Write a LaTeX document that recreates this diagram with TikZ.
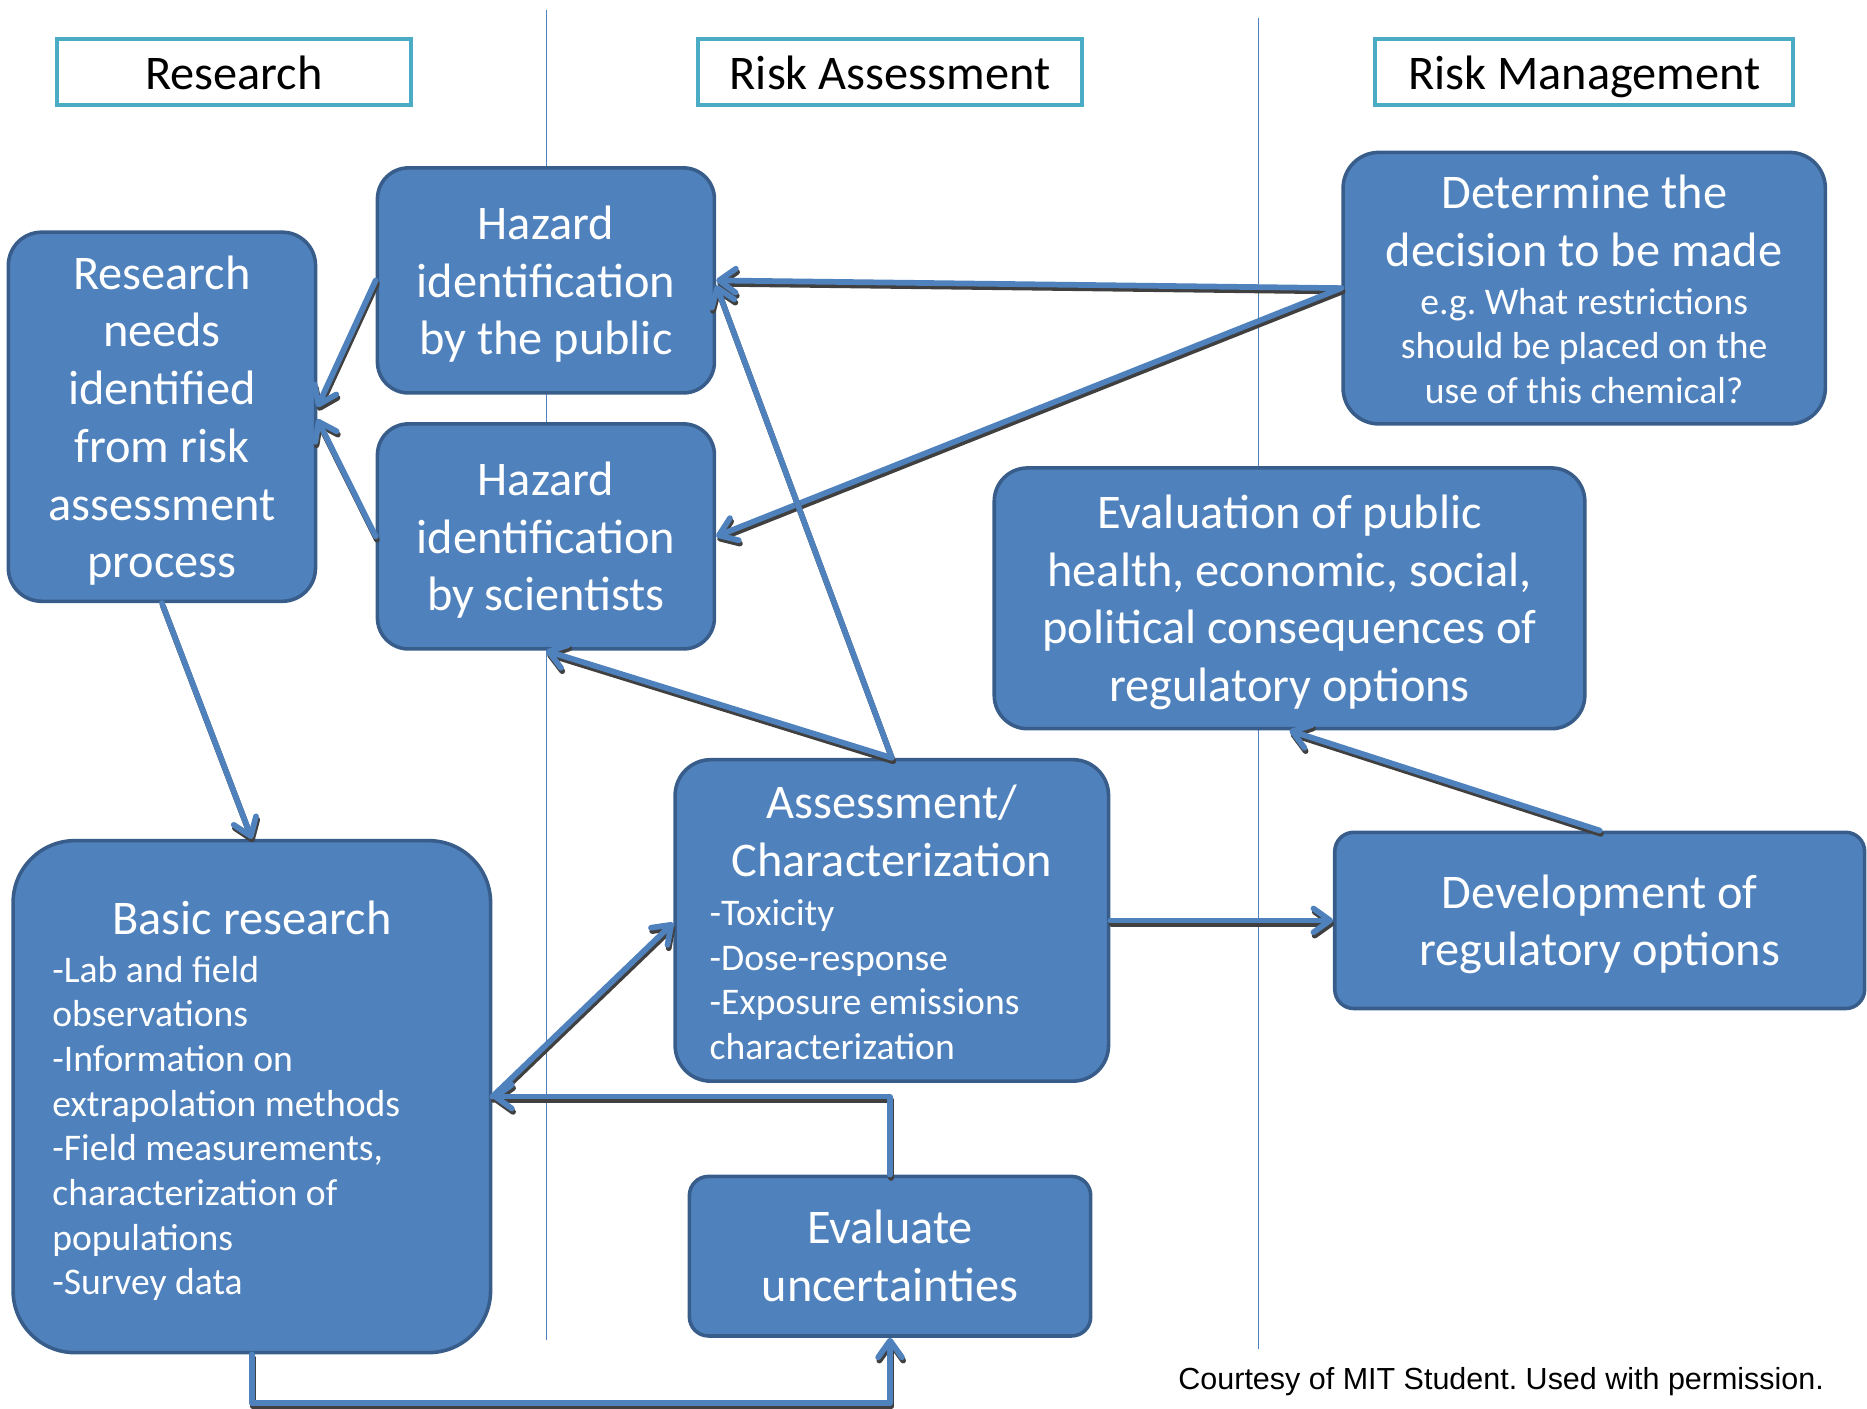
\documentclass[tikz,border=0pt]{standalone}
\usepackage{fontspec}
\setmainfont{Carlito}
\newfontfamily\courtesyfont{Liberation Sans}
\usetikzlibrary{arrows.meta,calc}
\setlength{\parindent}{0pt}
\frenchspacing
\newcommand\bigf{\fontsize{40.6}{48.5}\selectfont}
\newcommand\smf{\fontsize{31.6}{37.5}\selectfont}
\newcommand\topstrut{\rule{0pt}{38pt}}
\newcommand\botstrut[1]{\rule[-#1]{0pt}{#1}}
\newcommand\ts{\spaceskip=0pt\xspaceskip=0pt\relax}
\newcommand\connect[1]{\draw[connshadow] #1; \draw[conn] #1;}
\definecolor{boxfill}{RGB}{79,129,189}
\definecolor{boxborder}{RGB}{56,93,138}
\definecolor{headborder}{RGB}{75,172,198}
\definecolor{lanecol}{RGB}{79,129,189}
\definecolor{shadowgray}{RGB}{64,64,64}
\tikzset{
  bluebox/.style={draw=boxborder, fill=boxfill, line width=3pt, rounded corners=#1,
    text=white, inner sep=0pt, align=center, font=\bigf},
  header/.style={draw=headborder, fill=white, line width=3.5pt, inner sep=0pt,
    minimum height=55pt, text height=29pt, text depth=0pt, text=black, font=\bigf},
  lane/.style={draw=lanecol, line width=1.3pt},
  connbase/.style={line width=4.8pt, line cap=round, line join=round,
    -{Straight Barb[length=14pt,width=20pt,line width=4.8pt,round]}},
  conn/.style={connbase, draw=boxfill},
  connshadow/.style={connbase, draw=shadowgray, transform canvas={shift={(1pt,-2.8pt)}}},
}
\begin{document}
\begin{tikzpicture}[x=1pt,y=-1pt]
\useasboundingbox (0,0) rectangle (1568,1183);

% lanes
\draw[lane] (459,8) -- (459,1125);
\draw[lane] (1057,15) -- (1057,1133);

% headers
\node[header, minimum width=297pt] (hr) at (196.5,60.5) {Research};
\node[header, minimum width=323pt] (ha) at (747.5,60.5) {Risk Assessment};
\node[header, minimum width=351pt] (hm) at (1330.5,60.5) {Risk Management};

% boxes
\node[bluebox=28pt, minimum width=258pt, minimum height=310pt] (rn) at (136,350)
  {\topstrut Research\\needs\\identified\\from risk\\assessment\\process\botstrut{10pt}};
\node[bluebox=26pt, minimum width=283pt, minimum height=189pt] (hp) at (458.5,235.5)
  {\topstrut Hazard\\identification\\by the public\botstrut{10pt}};
\node[bluebox=26pt, minimum width=283pt, minimum height=189pt] (hs) at (458.5,450.5)
  {\topstrut Hazard\\identification\\by scientists\botstrut{10pt}};
\node[bluebox=30pt, minimum width=405pt, minimum height=228pt, text width=400pt] (dm) at (1330.5,242)
  {\ts\centering\bigf\topstrut Determine the\\decision to be made\par\vspace{2.8pt}\smf e.g. What restrictions\\should be placed on the\\use of this chemical?\botstrut{8pt}\par};
\node[bluebox=28pt, minimum width=496pt, minimum height=219pt] (ev) at (1083,502.5)
  {\topstrut Evaluation of public\\health, economic, social,\\political consequences of\\regulatory options\botstrut{10pt}};
\node[bluebox=30pt, minimum width=364pt, minimum height=270pt, text width=306pt] (ac) at (749,773)
  {\ts\centering\bigf\topstrut Assessment/\\Characterization\par\vspace{3.8pt}\raggedright\smf -Toxicity\\-Dose-response\\-Exposure emissions\\characterization\botstrut{6.5pt}\par};
\node[bluebox=16pt, minimum width=445pt, minimum height=148pt] (dv) at (1343.5,773)
  {\topstrut Development of\\regulatory options\botstrut{10pt}};
\node[bluebox=52pt, minimum width=401pt, minimum height=430pt, text width=335pt] (br) at (211.5,921)
  {\ts\centering\bigf\topstrut Basic research\par\vspace{2.8pt}\raggedright\smf -Lab and field\\observations\\-Information on\\extrapolation methods\\-Field measurements,\\characterization of\\populations\\-Survey data\botstrut{8pt}\par};
\node[bluebox=16pt, minimum width=337pt, minimum height=134pt] (eu) at (747.5,1055)
  {\topstrut Evaluate\\uncertainties\botstrut{10pt}};

% connectors
\connect{(dm.west) -- (hp.east)}
\connect{(dm.west) -- (hs.east)}
\connect{(hp.west) -- ([yshift=8pt]rn.east)}
\connect{(hs.west) -- ([yshift=-2pt]rn.east)}
\connect{(rn.south) -- (br.north)}
\connect{(ac.north) -- ([yshift=-4pt]hp.east)}
\connect{(ac.north) -- (hs.south)}
\connect{(br.east) -- ([yshift=-2pt]ac.west)}
\connect{(eu.north) |- (br.east)}
\connect{(br.south) -- ++(0,41) -| (eu.south)}
\connect{(ac.east) -- (dv.west)}
\connect{(dv.north) -- (ev.south)}

% credit
\node[anchor=base east, font=\courtesyfont\fontsize{25.6}{30}\selectfont, inner sep=0pt] (credit) at (1532,1167)
  {Courtesy of MIT Student. Used with permission.};
\end{tikzpicture}
\end{document}
